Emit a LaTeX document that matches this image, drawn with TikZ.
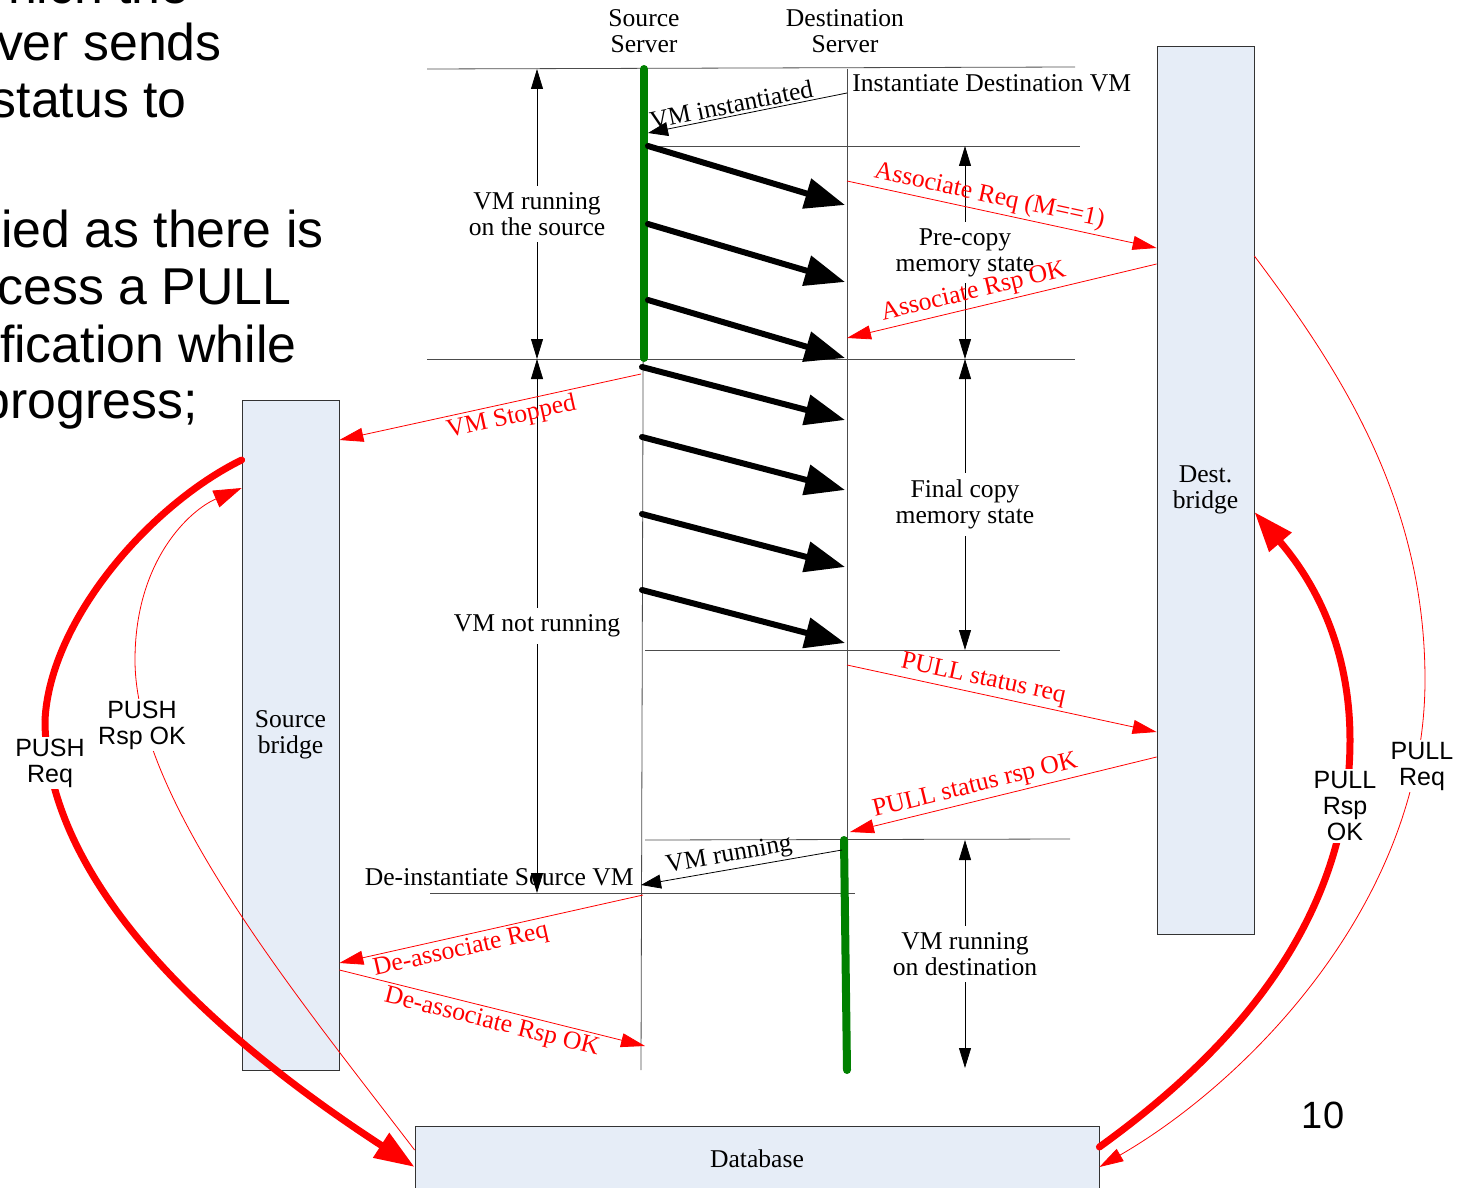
\documentclass[tikz,border=0pt]{standalone}
\usepackage{fontspec}
\setmainfont{Liberation Serif}
\newfontfamily\arialfont{Liberation Sans}
\usetikzlibrary{arrows.meta,calc}

\definecolor{boxfill}{RGB}{230,237,247}
\definecolor{rungreen}{RGB}{0,128,0}

\begin{document}
\begin{tikzpicture}[x=0.5pt,y=-0.5pt,
    every node/.style={font=\fontsize{12.8}{13}\selectfont},
    rule/.style={draw=black!70,thin},
    run/.style={draw=rungreen,line width=4pt,line cap=round},
    copyarrow/.style={line width=3pt,line cap=round,-{Triangle[length=20pt,width=15pt]}},
    span/.style={thin,{Triangle[length=10pt,width=6pt]}-{Triangle[length=10pt,width=6pt]}},
    msg/.style={red,thin,-{Triangle[length=12pt,width=7pt]}},
    msglabel/.style={red,sloped,inner sep=1.5pt},
    bridge/.style={draw=black!80,fill=boxfill,align=center,minimum width=48.5pt},
    sans/.style={font=\arialfont\fontsize{12.5}{13}\selectfont,align=center,fill=white,inner sep=1pt},
    bigtext/.style={font=\arialfont\fontsize{25.9}{28.5}\selectfont,anchor=base east,inner sep=0pt}
  ]
    \useasboundingbox (0,0) rectangle (1468,1188);

    % Slide text cut off on the left
    \node[bigtext] (txa) at (190,4) {hich the};
    \node[bigtext] (txb) at (222,61) {ver sends};
    \node[bigtext] (txc) at (187,118) {status to};
    \node[bigtext] (txd) at (324,247) {ied as there is};
    \node[bigtext] (txe) at (292,304) {cess a PULL};
    \node[bigtext] (txf) at (297,362) {fication while};
    \node[bigtext] (txg) at (198,418) {progress;};

    % Server titles
    \node[align=center] (srctitle) at (644,31) {Source\\Server};
    \node[align=center] (dsttitle) at (845,31) {Destination\\Server};

    % Lifeline points
    \coordinate (srcTop) at (644,69);
    \coordinate (srcStop) at (644,358);
    \coordinate (srcBot) at (641,1070);
    \coordinate (dstTop) at (847,69);
    \coordinate (dstRun) at (844,840);
    \coordinate (dstBot) at (847,1070);

    % Phase rules
    \draw[rule] (427,69) -- (1075,67);
    \draw[rule] (645,146) -- (1080,146);
    \draw[rule] (427,359) -- (1075,359);
    \draw[rule] (645,650) -- (1060,650);
    \draw[rule] (645,840) -- (1070,839);
    \draw[rule] (430,893) -- (855,893);

    % Lifelines
    \draw[rule] (srcTop) -- (srcBot);
    \draw[rule] (dstTop) -- (dstBot);
    \draw[run] (srcTop) -- (srcStop);
    \draw[run] (dstRun) -- (dstBot);

    % Bridges and database
    \node[bridge,minimum height=335pt] (sbr) at (290.5,735) {Source\\bridge};
    \node[bridge,minimum height=444pt] (dbr) at (1205.5,490) {Dest.\\bridge};
    \node[bridge,minimum width=342pt,minimum height=33pt] (db) at (757,1159) {Database};

    % Memory copies
    \foreach \i/\x/\a/\b in {1/648/146/205,2/648/224/282,3/648/300/358,
                             4/642/367/420,5/642/437/490,6/642/514/567,7/642/590/643} {
      \coordinate (cp\i a) at (\x,\a);
      \coordinate (cp\i b) at (845,\b);
      \draw[copyarrow] (cp\i a) -- (cp\i b);
    }

    % Spans
    \draw[span] (537,69) -- (537,359)
      node[midway,fill=white,align=center] (srcrun) {VM running\\on the source};
    \draw[span] (537,359) -- (537,893)
      node[midway,fill=white] (notrun) {VM not running};
    \draw[span] (965,146) -- (965,359)
      node[midway,fill=white,align=center] (precopy) {Pre-copy\\memory state};
    \draw[span] (965,359) -- (965,650)
      node[midway,fill=white,align=center] (finalcopy) {Final copy\\memory state};
    \draw[span] (965,840) -- (965,1068)
      node[midway,fill=white,align=center] (dstrun) {VM running\\on destination};

    % Instantiate / de-instantiate
    \node[anchor=west,inner sep=0pt] (inst) at (852,83) {Instantiate Destination VM};
    \node[anchor=east,inner sep=0pt] (deinst) at (634,877) {De-instantiate Source VM};
    \draw[thin,-{Triangle[length=10pt,width=7pt]}] (dstTop |- 0,93) -- (648,133)
      node[pos=0.57,sloped,above,inner sep=1pt] (instlbl) {VM instantiated};
    \draw[thin,-{Triangle[length=10pt,width=7pt]}] (842,850) -- (srcBot |- 0,885)
      node[pos=0.55,sloped,above,inner sep=1pt] (runlbl) {VM running};

    % Messages to and from the bridges
    \draw[msg] (dstTop |- 0,181) -- (dbr.west |- 0,248)
      node[msglabel,pos=0.45,above] (areq) {Associate Req (M==1)};
    \draw[msg] (dbr.west |- 0,264) -- (dstTop |- 0,338)
      node[msglabel,pos=0.58,above] (arsp) {Associate Rsp OK};
    \draw[msg] (srcBot |- 0,374) -- (sbr.east |- 0,440)
      node[msglabel,pos=0.44,below] (stopped) {VM Stopped};
    \draw[msg] (dstTop |- 0,665) -- (dbr.west |- 0,732)
      node[msglabel,pos=0.43,above] (pullreq) {PULL status req};
    \draw[msg] (dbr.west |- 0,757) -- (850,832)
      node[msglabel,pos=0.58,above] (pullrsp) {PULL status rsp OK};
    \draw[msg] (643,895) -- (sbr.east |- 0,963)
      node[msglabel,pos=0.61,below] (dareq) {De-associate Req};
    \draw[msg] (sbr.east |- 0,970) -- (645,1046)
      node[msglabel,pos=0.51,below] (darsp) {De-associate Rsp OK};

    % PUSH and PULL with the database
    \draw[red,line width=3.5pt,line cap=round,-{Triangle[length=20pt,width=14pt]}]
      (sbr.west |- 0,460) .. controls (150,505) and (50,620) .. (45,720)
      .. controls (45,900) and (250,1060) .. (db.west |- 0,1167);
    \draw[red,thin,-{Triangle[length=14pt,width=9pt]}]
      (db.west |- 0,1150) .. controls (300,1000) and (135,800) .. (135,660)
      .. controls (135,560) and (190,510) .. (sbr.west |- 0,488);
    \draw[red,line width=3.5pt,line cap=round,-{Triangle[length=20pt,width=14pt]}]
      (db.east |- 0,1147) .. controls (1220,1060) and (1350,930) .. (1350,740)
      .. controls (1350,630) and (1300,565) .. (dbr.east |- 0,512);
    \draw[red,thin,-{Triangle[length=12pt,width=7pt]}]
      (dbr.east |- 0,256) .. controls (1340,370) and (1425,500) .. (1425,680)
      .. controls (1425,900) and (1250,1080) .. (db.east |- 0,1167);
    \node[sans] (pushreq) at (50,763) {PUSH\\Req};
    \node[sans] (pushrsp) at (142,725) {PUSH\\Rsp OK};
    \node[sans] (pullrspok) at (1345,806) {PULL\\Rsp\\OK};
    \node[sans] (pullreqdb) at (1422,766) {PULL\\Req};

    % Page number
    \node[font=\arialfont\fontsize{19}{20}\selectfont] (pageno) at (1323,1115) {10};
\end{tikzpicture}
\end{document}
